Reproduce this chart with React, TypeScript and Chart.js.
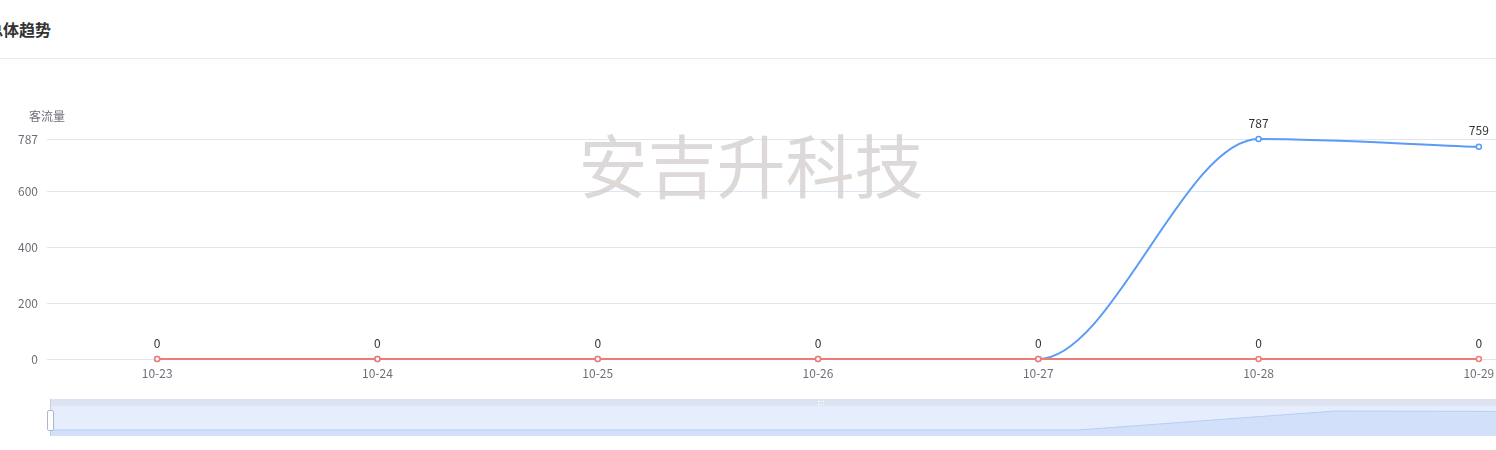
import React, { useEffect, useRef } from "react";
import { Chart, registerables } from "chart.js";

Chart.register(...registerables);

const categories = ["10-23", "10-24", "10-25", "10-26", "10-27", "10-28", "10-29"];
const redValues = [0, 0, 0, 0, 0, 0, 0];
const blueValues = [0, 0, 0, 0, 0, 787, 759];
const yTickValues = [0, 200, 400, 600, 787];
const yMax = 787;
const shadowMin = -248.6;
const shadowMax = 994.6;
const title = "总体趋势";
const yAxisName = "客流量";
const watermark = "安吉升科技";

const FONT = '"Noto Sans CJK SC", "Noto Sans", sans-serif';
const BLUE = "#5a9bf7";
const RED = "#ef7b76";

const extrasPlugin = {
  id: "extras",
  beforeDatasetsDraw(chart: any) {
    const ctx = chart.ctx;
    ctx.save();
    ctx.font = `69px ${FONT}`;
    ctx.fillStyle = "rgba(210,204,204,0.75)";
    ctx.textAlign = "center";
    ctx.textBaseline = "middle";
    ctx.fillText(watermark, 751, 106);
    ctx.restore();
  },
  afterDatasetsDraw(chart: any) {
    const ctx = chart.ctx;
    const area = chart.chartArea;
    ctx.save();
    ctx.font = `12px ${FONT}`;
    ctx.fillStyle = "#6e7079";
    ctx.textAlign = "center";
    ctx.textBaseline = "middle";
    ctx.fillText(yAxisName, area.left, area.top - 23);

    ctx.fillStyle = "#333";
    const seen = new Set<string>();
    chart.data.datasets.forEach((ds: any, di: number) => {
      const meta = chart.getDatasetMeta(di);
      meta.data.forEach((pt: any, i: number) => {
        const key = `${Math.round(pt.x)},${Math.round(pt.y)}`;
        if (seen.has(key)) return;
        seen.add(key);
        ctx.fillText(String(ds.data[i]), pt.x, pt.y - 16);
      });
    });
    ctx.restore();
  },
};

export default function App() {
  const mainRef = useRef<HTMLCanvasElement | null>(null);
  const miniRef = useRef<HTMLCanvasElement | null>(null);

  useEffect(() => {
    if (!mainRef.current || !miniRef.current) return;
    const main = new Chart(mainRef.current, {
      type: "line",
      data: {
        labels: categories,
        datasets: [
          {
            data: redValues,
            borderColor: RED,
            backgroundColor: "#fff",
            borderWidth: 2,
            pointRadius: 2.5,
            pointBorderWidth: 1.5,
            pointBorderColor: RED,
            pointBackgroundColor: "#fff",
            tension: 0,
            clip: false,
          },
          {
            data: blueValues,
            borderColor: BLUE,
            backgroundColor: "#fff",
            borderWidth: 2,
            pointRadius: 2.5,
            pointBorderWidth: 1.5,
            pointBorderColor: BLUE,
            pointBackgroundColor: "#fff",
            cubicInterpolationMode: "monotone",
            clip: false,
          },
        ],
      },
      options: {
        animation: false,
        responsive: false,
        maintainAspectRatio: false,
        layout: { padding: { top: 78, left: 0, right: 11, bottom: 0 } },
        plugins: { legend: { display: false }, tooltip: { enabled: false }, title: { display: false } },
        scales: {
          x: {
            offset: true,
            grid: { display: false, drawTicks: false },
            border: { display: false },
            ticks: {
              color: "#6e7079",
              font: { family: FONT, size: 12 },
              padding: 7,
              maxRotation: 0,
              autoSkip: false,
            },
            afterFit(scale: any) {
              scale.height = 42;
            },
          },
          y: {
            min: 0,
            max: yMax,
            grid: { color: "#e0e6f1", drawTicks: false, lineWidth: 1 },
            border: { display: false },
            ticks: {
              color: "#6e7079",
              font: { family: FONT, size: 12 },
              padding: 9,
            },
            afterBuildTicks(scale: any) {
              scale.ticks = yTickValues.map((v) => ({ value: v }));
            },
            afterFit(scale: any) {
              scale.width = 47;
            },
          },
        },
      },
      plugins: [extrasPlugin],
    } as any);

    const mini = new Chart(miniRef.current, {
      type: "line",
      data: {
        labels: categories,
        datasets: [
          {
            data: blueValues,
            borderColor: "#b7cdf6",
            borderWidth: 1,
            backgroundColor: "#d2e0fa",
            fill: "start",
            pointRadius: 0,
            tension: 0,
          },
        ],
      },
      options: {
        animation: false,
        responsive: false,
        maintainAspectRatio: false,
        layout: { padding: 0 },
        plugins: { legend: { display: false }, tooltip: { enabled: false } },
        scales: {
          x: { display: false, offset: false },
          y: { display: false, min: shadowMin, max: shadowMax },
        },
      },
    } as any);

    return () => {
      main.destroy();
      mini.destroy();
    };
  }, []);

  return (
    <div
      style={{
        position: "fixed",
        left: 0,
        top: 0,
        width: 1496,
        height: 450,
        overflow: "hidden",
        background: "#fff",
      }}
    >
      <div
        style={{
          position: "absolute",
          left: -13,
          top: 19,
          lineHeight: "20px",
          fontSize: 16,
          fontWeight: "bold",
          color: "#333",
          fontFamily: FONT,
          whiteSpace: "nowrap",
        }}
      >
        {title}
      </div>
      <div style={{ position: "absolute", left: 0, top: 58, width: 1496, height: 1, background: "#e8e8ee" }} />
      <canvas
        ref={mainRef}
        width={1600}
        height={340}
        style={{ position: "absolute", left: 0, top: 61, width: 1600, height: 340 }}
      />
      <div style={{ position: "absolute", left: 50, top: 399, width: 1542, height: 7, background: "#dde3f1" }} />
      <div style={{ position: "absolute", left: 50, top: 406, width: 1542, height: 30, background: "#e6edfc" }} />
      <canvas
        ref={miniRef}
        width={1542}
        height={30}
        style={{ position: "absolute", left: 50, top: 406, width: 1542, height: 30 }}
      />
      <div style={{ position: "absolute", left: 50, top: 399, width: 1, height: 37, background: "#c2cfea" }} />
      <div
        style={{
          position: "absolute",
          left: 47,
          top: 410,
          width: 5,
          height: 19,
          background: "#fff",
          border: "1px solid #acb8d1",
          borderRadius: 2,
        }}
      />
      <div
        style={{
          position: "absolute",
          left: 818,
          top: 401,
          width: 6,
          height: 2,
          borderTop: "1px dotted #fff",
          borderBottom: "1px dotted #fff",
        }}
      />
    </div>
  );
}
